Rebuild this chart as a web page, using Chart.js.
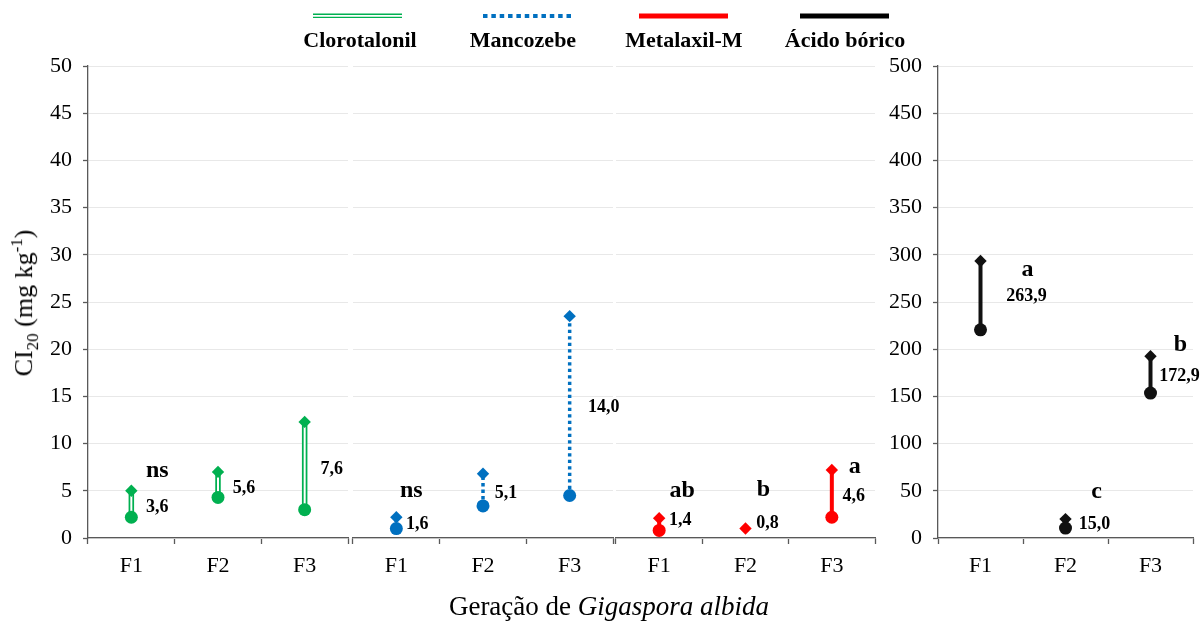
<!DOCTYPE html>
<html lang="pt">
<head>
<meta charset="utf-8">
<title>CI20 por geração de Gigaspora albida</title>
<script src="https://cdn.jsdelivr.net/npm/chart.js@4/dist/chart.umd.min.js"></script>
<style>
  html, body { margin: 0; padding: 0; background: #fff; }
  #wrap { position: relative; width: 1203px; height: 624px; overflow: hidden;
          font-family: "Liberation Serif", "Times New Roman", serif; color: #000; }
  #wrap canvas { position: absolute; top: 0; }
  .legend-line { position: absolute; top: 12px; }
  .legend-text { position: absolute; top: 26px; width: 160px; margin-left: -80px; text-align: center;
                 font-weight: bold; font-size: 22px; line-height: 28px; white-space: nowrap; }
  #ytitle { position: absolute; left: 25px; top: 303px; transform: translate(-50%, -50%) rotate(-90deg);
            font-size: 26px; white-space: nowrap; line-height: 30px; }
  #ytitle sub, #ytitle sup { font-size: 17px; }
  #xtitle { position: absolute; left: 609px; top: 606px; transform: translate(-50%, -50%);
            font-size: 27px; white-space: nowrap; }
</style>
</head>
<body>
<div id="wrap">
  <canvas id="c1" width="358" height="624" style="left:0px"></canvas>
  <canvas id="c2" width="280" height="624" style="left:343px"></canvas>
  <canvas id="c3" width="279" height="624" style="left:606px"></canvas>
  <canvas id="c4" width="353" height="624" style="left:850px"></canvas>

  <svg class="legend-line" style="left:313px" width="89" height="8"><line x1="0" y1="2.2" x2="89" y2="2.2" stroke="#00B050" stroke-width="1.4"/><line x1="0" y1="5.4" x2="89" y2="5.4" stroke="#00B050" stroke-width="1.4"/></svg>
  <div class="legend-text" style="left:360px">Clorotalonil</div>

  <svg class="legend-line" style="left:483px" width="89" height="8"><line x1="0" y1="4" x2="89" y2="4" stroke="#0070C0" stroke-width="4.2" stroke-dasharray="4.5 3.85"/></svg>
  <div class="legend-text" style="left:523px">Mancozebe</div>

  <svg class="legend-line" style="left:639px" width="89" height="8"><line x1="0" y1="4" x2="89" y2="4" stroke="#FF0000" stroke-width="4.8"/></svg>
  <div class="legend-text" style="left:684px">Metalaxil-M</div>

  <svg class="legend-line" style="left:800px" width="89" height="8"><line x1="0" y1="4" x2="89" y2="4" stroke="#000000" stroke-width="4.8"/></svg>
  <div class="legend-text" style="left:845px">Ácido bórico</div>

  <div id="ytitle">CI<sub>20</sub> (mg kg<sup>-1</sup>)</div>
  <div id="xtitle">Geração de <i>Gigaspora albida</i></div>
</div>

<script>
// Gerações do fungo (eixo x de cada painel)
const generations = ['F1', 'F2', 'F3'];

// Marcas dos eixos y: esquerdo (fungicidas) e direito (ácido bórico)
const leftTicks  = [0, 5, 10, 15, 20, 25, 30, 35, 40, 45, 50];
const rightTicks = [0, 50, 100, 150, 200, 250, 300, 350, 400, 450, 500];

// Clorotalonil: limites inferior/superior do intervalo, CI20 e letras
const clorotalonilLower  = [2.2, 4.3, 3.0];
const clorotalonilUpper  = [5.0, 7.0, 12.3];
const clorotalonilCI20   = [3.6, 5.6, 7.6];
const clorotalonilLetters = ['ns', '', ''];

// Mancozebe
const mancozebeLower  = [1.0, 3.4, 4.5];
const mancozebeUpper  = [2.2, 6.8, 23.5];
const mancozebeCI20   = [1.6, 5.1, 14.0];
const mancozebeLetters = ['ns', '', ''];

// Metalaxil-M (F2 sem limite inferior)
const metalaxilLower  = [0.8, null, 2.2];
const metalaxilUpper  = [2.1, 1.0, 7.2];
const metalaxilCI20   = [1.4, 0.8, 4.6];
const metalaxilLetters = ['ab', 'b', 'a'];

// Ácido bórico
const boricoLower  = [220.5, 10.5, 153.5];
const boricoUpper  = [293.5, 20.0, 192.5];
const boricoCI20   = [263.9, 15.0, 172.9];
const boricoLetters = ['a', 'c', 'b'];

// ---- estilos e posicionamento ----
const AXIS = '#595959';
const GRID = '#e8e8e8';
const FONT = '"Liberation Serif", "Times New Roman", serif';
const GREEN = '#00B050', BLUE = '#0070C0', RED = '#FF0000', BLACK = '#111111';

const panels = [
  {
    canvas: 'c1', showY: true, yWidth: 88, pad: { left: 0, right: 10 }, ticks: leftTicks,
    lower: clorotalonilLower, upper: clorotalonilUpper, ci20: clorotalonilCI20, letters: clorotalonilLetters,
    color: GREEN,
    strokes: [{ color: GREEN, width: 5.5 }, { color: '#ffffff', width: 2 }],
    valueOffsets: [[26, 3], [26, 3], [27, 3]],
    letterOffsets: [[26, -20], [0, 0], [0, 0]]
  },
  {
    canvas: 'c2', showY: false, yWidth: 0, pad: { left: 10, right: 10 }, ticks: leftTicks,
    lower: mancozebeLower, upper: mancozebeUpper, ci20: mancozebeCI20, letters: mancozebeLetters,
    color: BLUE,
    strokes: [{ color: BLUE, width: 3.5, dash: [3.3, 3.2] }],
    valueOffsets: [[21, 1], [23, 3], [34, 2]],
    letterOffsets: [[15, -26], [0, 0], [0, 0]]
  },
  {
    canvas: 'c3', showY: false, yWidth: 0, pad: { left: 10, right: 10 }, ticks: leftTicks,
    lower: metalaxilLower, upper: metalaxilUpper, ci20: metalaxilCI20, letters: metalaxilLetters,
    color: RED,
    strokes: [{ color: RED, width: 4 }],
    valueOffsets: [[21, -4], [22, -7], [22, 2]],
    letterOffsets: [[23, -27], [18, -39], [23, -3]]
  },
  {
    canvas: 'c4', showY: true, yWidth: 88, pad: { left: 0, right: 10 }, ticks: rightTicks,
    lower: boricoLower, upper: boricoUpper, ci20: boricoCI20, letters: boricoLetters,
    color: BLACK,
    strokes: [{ color: BLACK, width: 4 }],
    valueOffsets: [[46, 7], [29, 1], [29, 2]],
    letterOffsets: [[47, 9], [31, -27], [30, -11]]
  }
];

const fmt = v => v.toFixed(1).replace('.', ',');

// Rótulos de CI20 e letras de significância
function labelPlugin(p) {
  return {
    id: 'ciLabels',
    afterDatasetsDraw(chart) {
      const { ctx, scales: { x, y } } = chart;
      ctx.save();
      ctx.fillStyle = '#000';
      ctx.textAlign = 'center';
      ctx.textBaseline = 'middle';
      ctx.font = 'bold 18px ' + FONT;
      p.ci20.forEach((v, i) => {
        const [dx, dy] = p.valueOffsets[i];
        ctx.fillText(fmt(v), x.getPixelForValue(i) + dx, y.getPixelForValue(v) + dy);
      });
      ctx.font = 'bold 24px ' + FONT;
      p.letters.forEach((t, i) => {
        if (!t) return;
        const [dx, dy] = p.letterOffsets[i];
        ctx.fillText(t, x.getPixelForValue(i) + dx, y.getPixelForValue(p.upper[i]) + dy);
      });
      ctx.restore();
    }
  };
}

function buildDatasets(p) {
  const ds = [];
  // pontos: círculo = limite inferior, losango = limite superior
  ds.push({ data: p.lower, showLine: false, pointStyle: 'circle', pointRadius: 6.5,
            backgroundColor: p.color, borderColor: p.color, borderWidth: 0, order: 0 });
  ds.push({ data: p.upper, showLine: false, pointStyle: 'rectRot', pointRadius: 6.2,
            backgroundColor: p.color, borderColor: p.color, borderWidth: 0, order: 1 });
  // segmentos verticais do intervalo
  generations.forEach((g, i) => {
    const lo = p.lower[i], hi = p.upper[i];
    if (lo == null || hi == null) return;
    p.strokes.forEach((s, k) => {
      ds.push({
        data: [{ x: g, y: lo }, { x: g, y: hi }],
        borderColor: s.color, borderWidth: s.width, borderDash: s.dash || [],
        borderCapStyle: 'butt', pointRadius: 0, fill: false, tension: 0,
        order: 10 - k
      });
    });
  });
  return ds;
}

panels.forEach(p => {
  const t = p.ticks;
  new Chart(document.getElementById(p.canvas), {
    type: 'line',
    data: { labels: generations, datasets: buildDatasets(p) },
    options: {
      responsive: false, animation: false, events: [],
      layout: { padding: { top: 66, bottom: 36, left: p.pad.left, right: p.pad.right } },
      plugins: { legend: { display: false }, tooltip: { enabled: false } },
      scales: {
        x: {
          type: 'category', offset: true,
          grid: { offset: true, drawOnChartArea: false, tickLength: 6, tickColor: AXIS, tickWidth: 1.3 },
          border: { color: AXIS, width: 1.3 },
          ticks: { color: '#000', font: { family: FONT, size: 22 }, padding: 9, maxRotation: 0 },
          afterFit(s) { s.height = 50; }
        },
        y: {
          min: t[0], max: t[t.length - 1],
          ticks: { display: p.showY, stepSize: t[1] - t[0], color: '#000',
                   font: { family: FONT, size: 22 }, padding: 11 },
          grid: { color: GRID, lineWidth: 1, drawTicks: p.showY, tickLength: 5, tickColor: AXIS, tickWidth: 1.3 },
          border: { display: p.showY, color: AXIS, width: 1.3 },
          afterFit(s) { s.width = p.yWidth; }
        }
      }
    },
    plugins: [labelPlugin(p)]
  });
});
</script>
</body>
</html>
